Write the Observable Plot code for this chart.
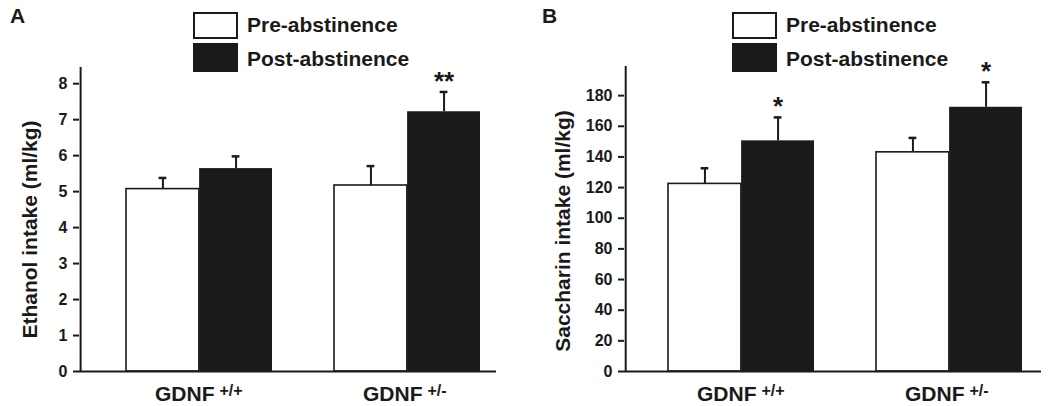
<!DOCTYPE html>
<html>
<head>
<meta charset="utf-8">
<script src="https://cdn.jsdelivr.net/npm/d3@7"></script>
<script src="https://cdn.jsdelivr.net/npm/@observablehq/plot@0.6"></script>
<style>
  html, body { margin: 0; padding: 0; background: #fff; }
  body { font-family: "Liberation Sans", Arial, Helvetica, sans-serif; }
  #wrap { position: relative; width: 1050px; height: 406px; overflow: hidden; }
  .panel { position: absolute; top: 0; width: 525px; height: 406px; }
  .panel svg { display: block; }
  .letter { position: absolute; font-weight: bold; font-size: 21px; line-height: 21px; color: #1a1a1a; }
  .lg-box { position: absolute; width: 41px; height: 25px; border: 2px solid #1a1a1a; }
  .lg-text { position: absolute; font-weight: bold; font-size: 21px; line-height: 21px; color: #1a1a1a; white-space: nowrap; }
</style>
</head>
<body>
<div id="wrap"></div>
<script>
// ---------------- data ----------------
const groups = ["GDNF +/+", "GDNF +/-"];
const groupBase = ["GDNF", "GDNF"];
const groupSup = ["+/+", "+/-"];
const series = ["Pre-abstinence", "Post-abstinence"];
const seriesFill = ["#ffffff", "#1a1a1a"];

const ethanolPre = [5.07, 5.17];
const ethanolPreErr = [0.31, 0.54];
const ethanolPost = [5.64, 7.22];
const ethanolPostErr = [0.34, 0.55];
const ethanolStars = ["", "**"];
const ethanolTicks = [0, 1, 2, 3, 4, 5, 6, 7, 8];

const saccharinPre = [122.4, 143];
const saccharinPreErr = [10.2, 9.4];
const saccharinPost = [150.5, 172.4];
const saccharinPostErr = [15.3, 16.3];
const saccharinStars = ["*", "*"];
const saccharinTicks = [0, 20, 40, 60, 80, 100, 120, 140, 160, 180];

// ---------------- drawing ----------------
const FONT = '"Liberation Sans", Arial, Helvetica, sans-serif';
const INK = "#1a1a1a";

function panel(cfg) {
  const W = 525, H = 406;
  const plotW = W - cfg.marginLeft - cfg.marginRight;
  const pi = 0.3, po = 0.148;
  const step = plotW / (groups.length - pi + 2 * po);
  const bw = step * (1 - pi);
  const leftGap = 2 * po * step * cfg.align;
  const cap = 4;
  const rows = groups.map((g, i) => ({
    g,
    pre: cfg.pre[i], preTop: cfg.pre[i] + cfg.preErr[i],
    post: cfg.post[i], postTop: cfg.post[i] + cfg.postErr[i],
    star: cfg.stars[i], base: groupBase[i], sup: groupSup[i]
  }));
  return Plot.plot({
    width: W, height: H,
    marginLeft: cfg.marginLeft, marginRight: cfg.marginRight,
    marginTop: cfg.marginTop, marginBottom: 35,
    style: { fontFamily: FONT, fontSize: "16px", fontWeight: "bold", background: "transparent", color: INK },
    x: { type: "band", domain: groups, paddingInner: pi, paddingOuter: po, align: cfg.align, axis: null },
    y: { domain: [0, cfg.yMax], axis: null },
    marks: [
      Plot.barY(rows, { x: "g", y: "pre", insetRight: bw / 2, fill: seriesFill[0], stroke: INK, strokeWidth: 1.6 }),
      Plot.barY(rows, { x: "g", y: "post", insetLeft: bw / 2, fill: seriesFill[1] }),
      Plot.ruleX(rows, { x: "g", y1: "pre", y2: "preTop", dx: -bw / 4, stroke: INK, strokeWidth: 2 }),
      Plot.tickY(rows, { x: "g", y: "preTop", insetLeft: bw / 4 - cap, insetRight: 3 * bw / 4 - cap, stroke: INK, strokeWidth: 2.5 }),
      Plot.ruleX(rows, { x: "g", y1: "post", y2: "postTop", dx: bw / 4, stroke: INK, strokeWidth: 2 }),
      Plot.tickY(rows, { x: "g", y: "postTop", insetLeft: 3 * bw / 4 - cap, insetRight: bw / 4 - cap, stroke: INK, strokeWidth: 2.5 }),
      // y ticks (marks only) + explicit tick labels
      Plot.axisY({ ticks: cfg.ticks, tickSize: 6, stroke: INK, strokeWidth: 2, label: null, tickFormat: () => "" }),
      Plot.text(cfg.ticks, { y: d => d, text: d => String(d), frameAnchor: "left", textAnchor: "end", lineAnchor: "middle",
                             dx: -12, fontSize: 16, fontWeight: "bold", fill: INK }),
      // y axis line along the left edge of the frame
      Plot.ruleX([groups[0]], { x: d => d, dx: -(leftGap + bw / 2), stroke: INK, strokeWidth: 2 }),
      Plot.ruleY([0], { stroke: INK, strokeWidth: 2 }),
      Plot.text(rows, { x: "g", y: "postTop", text: "star", dx: bw / 4, dy: -2, lineAnchor: "bottom",
                        fontSize: 26, fontWeight: "bold", fill: INK }),
      Plot.text(rows, { x: "g", text: "base", frameAnchor: "bottom", textAnchor: "end", lineAnchor: "bottom",
                        dx: 15, dy: 29, fontSize: 21, fontWeight: "bold", fill: INK }),
      Plot.text(rows, { x: "g", text: "sup", frameAnchor: "bottom", textAnchor: "start", lineAnchor: "bottom",
                        dx: 20, dy: 24, fontSize: 16, fontWeight: "bold", fill: INK }),
      Plot.text([cfg.label], { frameAnchor: "left", textAnchor: "middle", lineAnchor: "middle", rotate: -90,
                               dx: cfg.labelDx, dy: cfg.labelDy, fontSize: 21, fontWeight: "bold", fill: INK })
    ]
  });
}

const wrap = document.getElementById("wrap");

function addPanel(left, cfg, letter, letterLeft, legendLeft) {
  const div = document.createElement("div");
  div.className = "panel";
  div.style.left = left + "px";
  div.appendChild(panel(cfg));
  wrap.appendChild(div);

  const L = document.createElement("div");
  L.className = "letter";
  L.textContent = letter;
  L.style.left = letterLeft + "px";
  L.style.top = "5px";
  wrap.appendChild(L);

  const boxTops = [12, 43];
  const boxH = [27, 29];
  const textTops = [14, 48];
  series.forEach((s, i) => {
    const b = document.createElement("div");
    b.className = "lg-box";
    b.style.left = legendLeft + "px";
    b.style.top = boxTops[i] + "px";
    b.style.height = (boxH[i] - 4) + "px";
    b.style.background = seriesFill[i];
    wrap.appendChild(b);
    const t = document.createElement("div");
    t.className = "lg-text";
    t.textContent = s;
    t.style.left = (legendLeft + 54) + "px";
    t.style.top = textTops[i] + "px";
    wrap.appendChild(t);
  });
}

addPanel(0, {
  pre: ethanolPre, preErr: ethanolPreErr, post: ethanolPost, postErr: ethanolPostErr,
  stars: ethanolStars, ticks: ethanolTicks, yMax: 8.45,
  marginLeft: 79, marginRight: 29, marginTop: 67, align: 0.74,
  label: "Ethanol intake (ml/kg)", labelDx: -49, labelDy: 10
}, "A", 10, 193);

addPanel(525, {
  pre: saccharinPre, preErr: saccharinPreErr, post: saccharinPost, postErr: saccharinPostErr,
  stars: saccharinStars, ticks: saccharinTicks, yMax: 199,
  marginLeft: 99, marginRight: 9, marginTop: 66, align: 0.69,
  label: "Saccharin intake (ml/kg)", labelDx: -61, labelDy: 12
}, "B", 542, 732);
</script>
</body>
</html>
